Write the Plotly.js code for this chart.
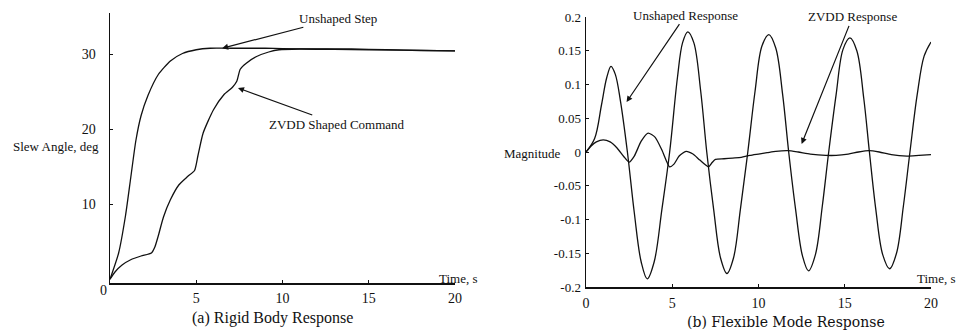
<!DOCTYPE html>
<html>
<head>
<meta charset="utf-8">
<script src="https://cdn.plot.ly/plotly-3.0.1.min.js"></script>
<style>html,body{margin:0;padding:0;background:#fff;}#chart{width:956px;height:332px;}</style>
</head>
<body>
<div id="chart"></div>
<script>
// (a) Rigid body response
const rigidStepT = [0, 0.5, 0.9, 1.2, 1.5, 1.8, 2.2, 2.8, 3.5, 4.2, 5.0, 5.8, 7, 8, 9, 10, 12, 14, 16, 18, 20];
const rigidStepY = [0, 3.5, 8.5, 13.5, 18.5, 21.8, 24.5, 27.3, 29.1, 30.1, 30.6, 30.8, 30.8, 30.8, 30.8, 30.75, 30.7, 30.7, 30.6, 30.5, 30.45];
const rigidZvddT = [0, 0.3, 0.7, 1.2, 1.8, 2.4, 2.6, 2.8, 3.1, 3.5, 4.0, 4.5, 4.9, 5.1, 5.4, 6.0, 6.6, 7.1, 7.35, 7.55, 7.9, 8.5, 9.2, 9.8, 11, 13, 15, 17, 20];
const rigidZvddY = [0, 1.0, 1.9, 2.6, 3.1, 3.5, 4.3, 5.8, 8.3, 10.6, 12.6, 13.7, 14.5, 16.5, 19.5, 22.6, 24.6, 25.6, 26.4, 28.0, 28.8, 29.7, 30.3, 30.6, 30.7, 30.65, 30.6, 30.55, 30.45];

// (b) Flexible mode response
const flexUnshT = [0, 0.5, 0.9, 1.2, 1.45, 1.7, 2.0, 2.4, 2.8, 3.2, 3.55, 3.95, 4.4, 4.85, 5.3, 5.6, 5.9, 6.25, 6.65, 7.0, 7.4, 7.8, 8.17, 8.55, 8.95, 9.38, 9.8, 10.2, 10.6, 11.0, 11.4, 11.75, 12.15, 12.55, 12.9, 13.3, 13.7, 14.07, 14.5, 14.9, 15.3, 15.7, 16.1, 16.43, 16.8, 17.2, 17.6, 18.0, 18.4, 18.78, 19.2, 19.6, 20];
const flexUnshY = [0, 0.02, 0.07, 0.11, 0.127, 0.115, 0.075, 0.0, -0.09, -0.163, -0.188, -0.163, -0.085, 0.0, 0.11, 0.162, 0.178, 0.162, 0.09, 0.0, -0.085, -0.157, -0.18, -0.157, -0.085, 0.0, 0.09, 0.157, 0.174, 0.154, 0.085, 0.0, -0.085, -0.154, -0.176, -0.152, -0.08, 0.0, 0.085, 0.152, 0.169, 0.15, 0.08, 0.0, -0.085, -0.152, -0.173, -0.15, -0.08, 0.0, 0.085, 0.142, 0.163];
const flexZvddT = [0, 0.3, 0.6, 1.0, 1.4, 1.8, 2.2, 2.5, 2.8, 3.2, 3.6, 4.0, 4.4, 4.85, 5.1, 5.4, 5.8, 6.2, 6.6, 7.1, 7.3, 7.5, 8.0, 8.5, 9.0, 9.5, 10.0, 10.5, 11.0, 11.7, 12.3, 13.0, 13.9, 14.5, 15.2, 15.8, 16.4, 17.0, 17.7, 18.6, 19.3, 20];
const flexZvddY = [0, 0.009, 0.015, 0.018, 0.015, 0.006, -0.007, -0.015, -0.006, 0.016, 0.028, 0.022, 0.003, -0.022, -0.018, -0.006, 0.001, -0.003, -0.012, -0.022, -0.016, -0.011, -0.010, -0.009, -0.008, -0.005, -0.003, -0.001, 0.001, 0.002, 0.0, -0.003, -0.005, -0.005, -0.003, 0.0, 0.002, 0.0, -0.004, -0.006, -0.005, -0.004];

const rigidXTicks = [5, 10, 15, 20];
const rigidYTicks = [10, 20, 30];
const flexXTicks = [0, 5, 10, 15, 20];
const flexYTicks = [0.2, 0.15, 0.1, 0.05, 0, -0.05, -0.1, -0.15, -0.2];
const flexYTickText = ["0.2", "0.15", "0.1", "0.05", "0", "-0.05", "-0.1", "-0.15", "-0.2"];

const W = 956, H = 332;
const px = v => v / W;
const py = v => 1 - v / H;

const rigidLine = {color: '#111', width: 1.3, shape: 'spline', smoothing: 0.6};
const flexLine = {color: '#111', width: 1.3, shape: 'spline', smoothing: 1};
const traces = [
  {x: rigidStepT, y: rigidStepY, xaxis: 'x', yaxis: 'y', mode: 'lines', line: rigidLine, hoverinfo: 'skip'},
  {x: rigidZvddT, y: rigidZvddY, xaxis: 'x', yaxis: 'y', mode: 'lines', line: rigidLine, hoverinfo: 'skip'},
  {x: flexUnshT, y: flexUnshY, xaxis: 'x2', yaxis: 'y2', mode: 'lines', line: flexLine, hoverinfo: 'skip'},
  {x: flexZvddT, y: flexZvddY, xaxis: 'x2', yaxis: 'y2', mode: 'lines', line: rigidLine, hoverinfo: 'skip'}
];

const axBase = {
  showgrid: false, zeroline: false, showline: true, linecolor: '#111', linewidth: 1.5,
  ticks: 'inside', ticklen: 3, tickcolor: '#111', tickmode: 'array',
  tickfont: {family: 'Liberation Serif', size: 14, color: '#111'}, fixedrange: true
};

const labelFont = {family: 'Liberation Serif', size: 13, color: '#111'};
const txt = (x, y, text, font) => ({xref: 'paper', yref: 'paper', x: px(x), y: py(y), xanchor: 'center', yanchor: 'middle', text: text, showarrow: false, font: font || labelFont});
const arrowBase = {showarrow: true, arrowhead: 2, arrowsize: 1, arrowwidth: 1.2, arrowcolor: '#111', standoff: 0, font: labelFont, xanchor: 'center', yanchor: 'middle'};

const layout = {
  width: W, height: H,
  margin: {l: 0, r: 0, t: 0, b: 0},
  paper_bgcolor: '#fff', plot_bgcolor: '#fff',
  showlegend: false,
  font: {family: 'Liberation Serif', color: '#111'},
  xaxis: Object.assign({}, axBase, {domain: [px(110), px(455)], anchor: 'y', range: [0, 20], tickvals: rigidXTicks, ticklabelstandoff: 2}),
  yaxis: Object.assign({}, axBase, {domain: [py(283), py(13)], anchor: 'x', range: [-0.5, 35.5], tickvals: rigidYTicks, ticklabelstandoff: 10}),
  xaxis2: Object.assign({}, axBase, {domain: [px(586), px(931)], anchor: 'y2', range: [0, 20], tickvals: flexXTicks, ticklabelstandoff: 3}),
  yaxis2: Object.assign({}, axBase, {domain: [py(287), py(17)], anchor: 'x2', range: [-0.2, 0.2], tickvals: flexYTicks, ticktext: flexYTickText, ticklabelstandoff: 1, tickfont: {family: 'Liberation Serif', size: 13, color: '#111'}}),
  annotations: [
    txt(103, 290, '0', {family: 'Liberation Serif', size: 14, color: '#111'}),
    txt(56, 147, 'Slew Angle, deg'),
    txt(458, 278, 'Time, s'),
    txt(936, 278, 'Time, s'),
    txt(532, 153, 'Magnitude'),
    txt(272, 318, '(a) Rigid Body Response', {family: 'Liberation Serif', size: 16, color: '#111'}),
    txt(786, 322, '(b) Flexible Mode Response', {family: 'DejaVu Serif', size: 14, color: '#111'}),
    Object.assign({}, arrowBase, {xref: 'x', yref: 'y', x: 6.5, y: 30.8, ax: 116, ay: -30, text: 'Unshaped Step'}),
    Object.assign({}, arrowBase, {xref: 'x', yref: 'y', x: 7.42, y: 25.5, ax: 99, ay: 36, text: 'ZVDD Shaped Command'}),
    Object.assign({}, arrowBase, {xref: 'x2', yref: 'y2', x: 2.35, y: 0.074, ax: 59, ay: -87, text: 'Unshaped Response'}),
    Object.assign({}, arrowBase, {xref: 'x2', yref: 'y2', x: 12.5, y: 0.012, ax: 51, ay: -127, text: 'ZVDD Response'})
  ]
};

Plotly.newPlot('chart', traces, layout, {staticPlot: true, displayModeBar: false});
</script>
</body>
</html>
